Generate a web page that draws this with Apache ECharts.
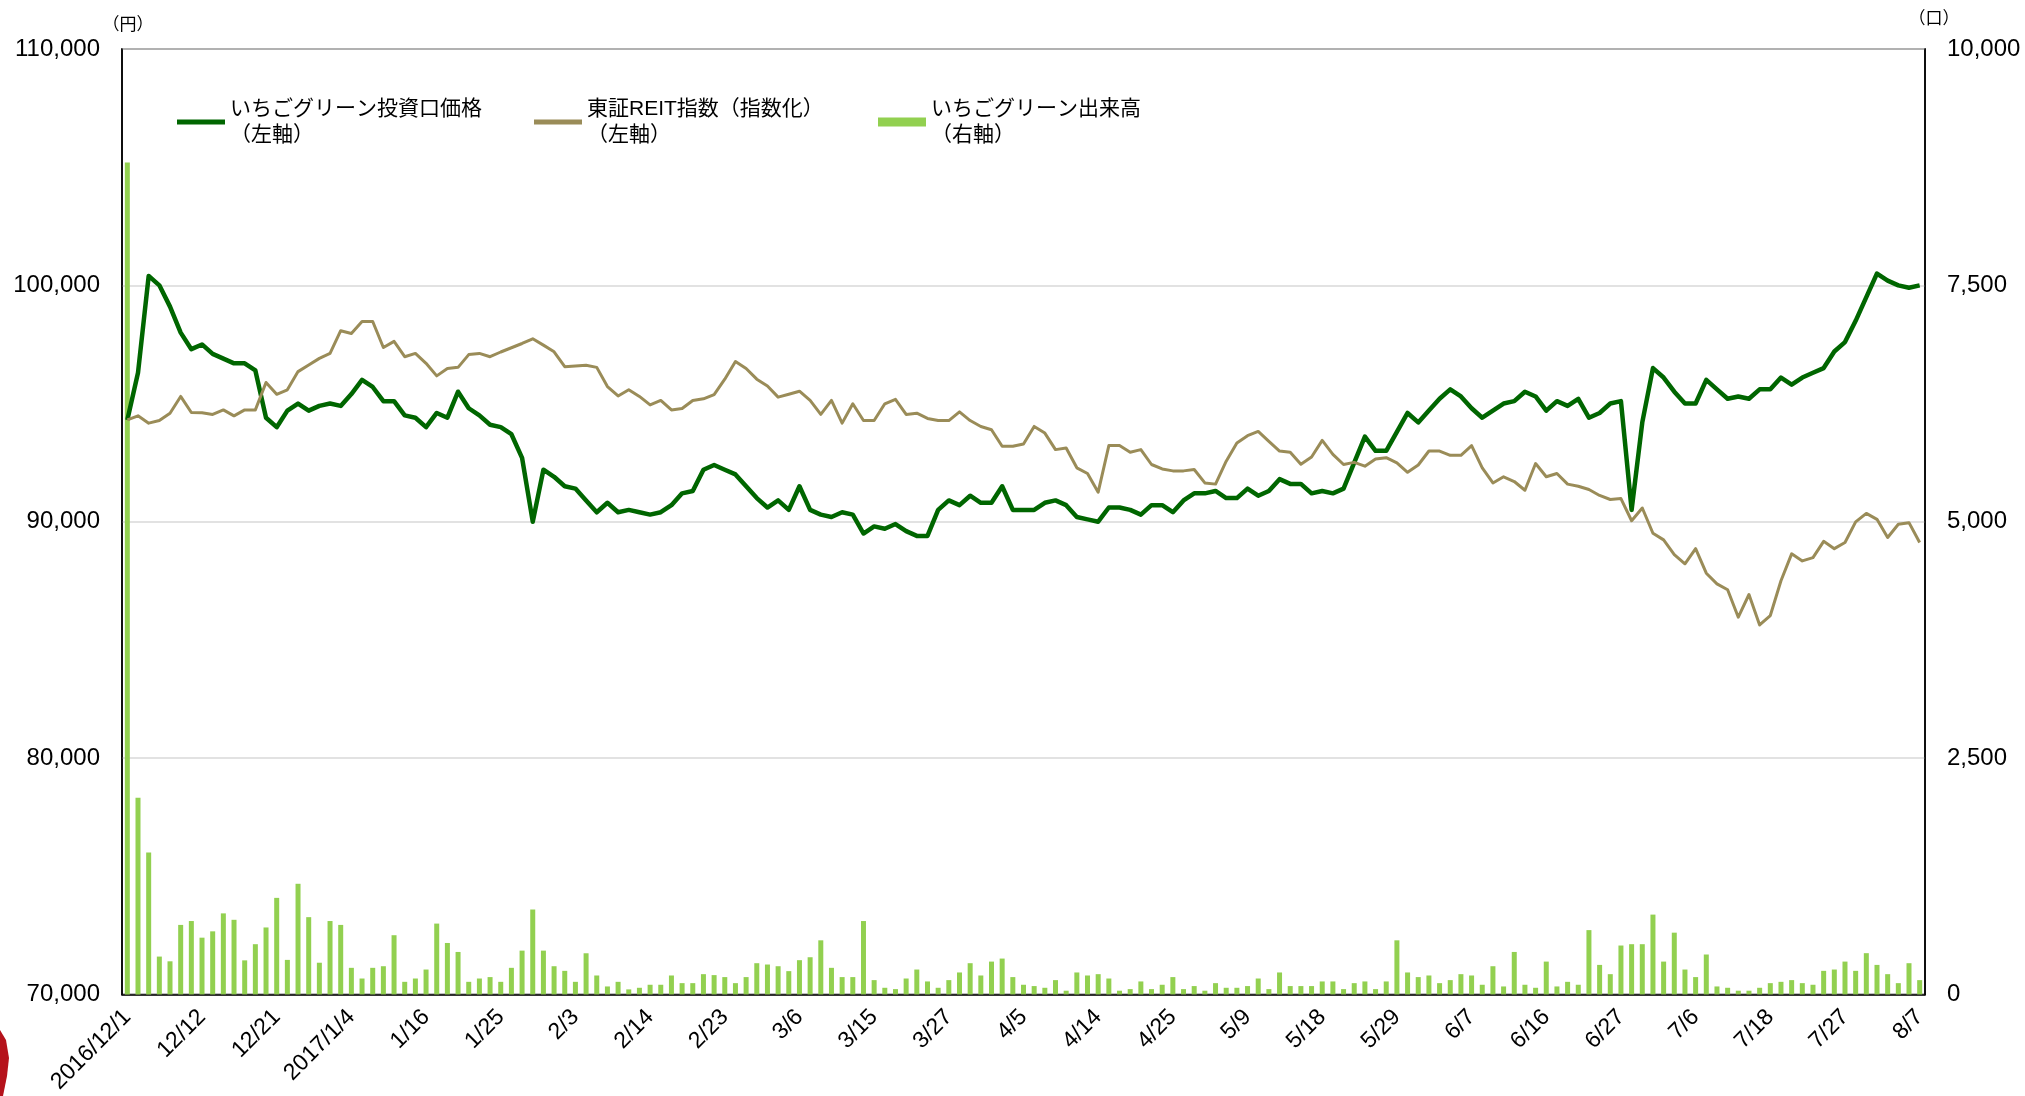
<!DOCTYPE html>
<html>
<head>
<meta charset="utf-8">
<script src="https://cdn.jsdelivr.net/npm/echarts@6/dist/echarts.min.js"></script>
<style>
  html, body { margin: 0; padding: 0; background: #fff; }
  #chart { width: 2025px; height: 1096px; }
</style>
</head>
<body>
<div id="chart"></div>
<script>
// 営業日（東証）2016/12/1 〜 2017/8/7
const dec2016 = [1,2,5,6,7,8,9,12,13,14,15,16,19,20,21,22,26,27,28,29,30];
const jan2017 = [4,5,6,10,11,12,13,16,17,18,19,20,23,24,25,26,27,30,31];
const feb2017 = [1,2,3,6,7,8,9,10,13,14,15,16,17,20,21,22,23,24,27,28];
const mar2017 = [1,2,3,6,7,8,9,10,13,14,15,16,17,21,22,23,24,27,28,29,30,31];
const apr2017 = [3,4,5,6,7,10,11,12,13,14,17,18,19,20,21,24,25,26,27,28];
const may2017 = [1,2,8,9,10,11,12,15,16,17,18,19,22,23,24,25,26,29,30,31];
const jun2017 = [1,2,5,6,7,8,9,12,13,14,15,16,19,20,21,22,23,26,27,28,29,30];
const jul2017 = [3,4,5,6,7,10,11,12,13,14,18,19,20,21,24,25,26,27,28,31];
const aug2017 = [1,2,3,4,7];

// いちごグリーン投資口価格（円）
const price = [
  94300, 96300, 100400, 100000, 99100, 98000, 97300, 97500, 97100, 96900,
  96700, 96700, 96400, 94400, 94000, 94700, 95000, 94700, 94900, 95000,
  94900, 95400, 96000, 95700, 95100, 95100, 94500, 94400, 94000, 94600,
  94400, 95500, 94800, 94500, 94100, 94000, 93700, 92700, 90000, 92200,
  91900, 91500, 91400, 90900, 90400, 90800, 90400, 90500, 90400, 90300,
  90400, 90700, 91200, 91300, 92200, 92400, 92200, 92000, 91500, 91000,
  90600, 90900, 90500, 91500, 90500, 90300, 90200, 90400, 90300, 89500,
  89800, 89700, 89900, 89600, 89400, 89400, 90500, 90900, 90700, 91100,
  90800, 90800, 91500, 90500, 90500, 90500, 90800, 90900, 90700, 90200,
  90100, 90000, 90600, 90600, 90500, 90300, 90700, 90700, 90400, 90900,
  91200, 91200, 91300, 91000, 91000, 91400, 91100, 91300, 91800, 91600,
  91600, 91200, 91300, 91200, 91400, 92500, 93600, 93000, 93000, 93800,
  94600, 94200, 94700, 95200, 95600, 95300, 94800, 94400, 94700, 95000,
  95100, 95500, 95300, 94700, 95100, 94900, 95200, 94400, 94600, 95000,
  95100, 90500, 94200, 96500, 96100, 95500, 95000, 95000, 96000, 95600,
  95200, 95300, 95200, 95600, 95600, 96100, 95800, 96100, 96300, 96500,
  97200, 97600, 98500, 99500, 100500, 100200, 100000, 99900, 100000
];

// 東証REIT指数（指数化）
const reit = [
  94310, 94480, 94170, 94280, 94590, 95300, 94620, 94610, 94540, 94730,
  94480, 94730, 94730, 95890, 95390, 95580, 96350, 96630, 96910, 97120,
  98080, 97960, 98470, 98470, 97370, 97630, 96980, 97120, 96700, 96170,
  96480, 96530, 97070, 97120, 96980, 97180, 97360, 97540, 97740, 97470,
  97190, 96560, 96590, 96620, 96530, 95720, 95320, 95580, 95300, 94940,
  95130, 94730, 94790, 95130, 95200, 95380, 96030, 96780, 96480, 96030,
  95740, 95270, 95390, 95520, 95130, 94540, 95130, 94170, 94990, 94280,
  94280, 94990, 95180, 94540, 94590, 94370, 94280, 94280, 94650, 94280,
  94030, 93890, 93190, 93190, 93290, 94030, 93750, 93050, 93120, 92280,
  92040, 91250, 93220, 93220, 92940, 93050, 92420, 92230, 92150, 92150,
  92210, 91640, 91590, 92560, 93330, 93640, 93820, 93400, 92990, 92940,
  92430, 92740, 93440, 92850, 92420, 92510, 92350, 92650, 92710, 92490,
  92090, 92400, 92990, 92990, 92810, 92810, 93220, 92280, 91640, 91900,
  91700, 91330, 92460, 91900, 92040, 91590, 91500, 91360, 91110, 90940,
  90980, 90040, 90580, 89510, 89230, 88610, 88220, 88860, 87820, 87370,
  87120, 85960, 86920, 85630, 86030, 87500, 88640, 88340, 88480, 89170,
  88860, 89120, 89990, 90350, 90100, 89330, 89890, 89960, 89120
];

// いちごグリーン出来高（口）
const volume = [
  8800, 2080, 1500, 400, 350, 735, 776, 600, 667, 857,
  789, 360, 531, 708, 1021, 365, 1170, 817, 335, 776,
  735, 281, 168, 281, 298, 626, 133, 168, 263, 749,
  544, 449, 133, 168, 183, 133, 281, 463, 898, 463,
  298, 249, 133, 435, 200, 84, 133, 53, 70, 102,
  102, 200, 119, 119, 214, 204, 183, 119, 183, 330,
  316, 298, 246, 362, 393, 572, 281, 183, 183, 776,
  151, 70, 56, 168, 263, 137, 70, 151, 232, 330,
  200, 347, 379, 183, 102, 88, 70, 151, 39, 232,
  200, 214, 168, 39, 56, 137, 56, 102, 183, 56,
  88, 39, 119, 70, 70, 88, 168, 56, 232, 88,
  88, 88, 137, 137, 56, 119, 137, 56, 137, 572,
  232, 183, 200, 119, 151, 214, 200, 102, 298, 84,
  449, 102, 70, 347, 84, 133, 102, 680, 312, 214,
  517, 531, 531, 844, 347, 653, 263, 183, 422, 84,
  70, 39, 39, 70, 119, 133, 151, 119, 102, 249,
  263, 347, 249, 436, 312, 214, 119, 330, 151
];

const seriesNames = ['いちごグリーン投資口価格', '東証REIT指数（指数化）', 'いちごグリーン出来高'];
const axisNotes = ['（左軸）', '（左軸）', '（右軸）'];

// カテゴリ（先頭と年が変わった日だけ年を付ける）
const months = [
  [2016, 12, dec2016], [2017, 1, jan2017], [2017, 2, feb2017], [2017, 3, mar2017],
  [2017, 4, apr2017], [2017, 5, may2017], [2017, 6, jun2017], [2017, 7, jul2017], [2017, 8, aug2017]
];
const categories = [];
let lastYear = null;
months.forEach(([y, m, days]) => {
  days.forEach(d => {
    categories.push(y !== lastYear ? `${y}/${m}/${d}` : `${m}/${d}`);
    lastYear = y;
  });
});

const FONT = 'Arial, "Liberation Sans", "Noto Sans CJK JP", sans-serif';
const GREEN = '#006600';
const TAN = '#9a8c58';
const LIGHT = '#92d050';

const chart = echarts.init(document.getElementById('chart'), null, { renderer: 'canvas' });

const legendBase = {
  top: 91,
  icon: 'rect',
  itemWidth: 48,
  selectedMode: false,
  textStyle: { fontSize: 21, lineHeight: 26, color: '#000', fontFamily: FONT }
};

chart.setOption({
  animation: false,
  backgroundColor: '#fff',
  textStyle: { fontFamily: FONT },
  grid: {
    left: 122, right: 100, top: 49, bottom: 98,
    show: true, borderColor: '#000', borderWidth: 1.5, backgroundColor: 'transparent'
  },
  legend: [
    Object.assign({}, legendBase, {
      left: 172, itemHeight: 5, data: [seriesNames[0]],
      formatter: n => n + '\n' + axisNotes[0]
    }),
    Object.assign({}, legendBase, {
      left: 529, itemHeight: 5, data: [seriesNames[1]],
      formatter: n => n + '\n' + axisNotes[1]
    }),
    Object.assign({}, legendBase, {
      left: 873, itemHeight: 9, data: [seriesNames[2]],
      formatter: n => n + '\n' + axisNotes[2]
    })
  ],
  xAxis: {
    type: 'category',
    data: categories,
    boundaryGap: true,
    axisLine: { lineStyle: { color: '#000', width: 1.5 } },
    axisTick: { show: false },
    axisLabel: {
      interval: 6, rotate: 45, margin: 19,
      fontSize: 23, color: '#000', fontFamily: FONT
    },
    splitLine: { show: false }
  },
  yAxis: [
    {
      type: 'value', min: 70000, max: 110000, interval: 10000,
      name: '（円）', nameLocation: 'end', nameGap: 15,
      nameTextStyle: { fontSize: 17, color: '#000', padding: [0, 0, 0, 12] },
      axisLine: { show: true, lineStyle: { color: '#000', width: 1.5 } },
      axisTick: { show: false },
      axisLabel: {
        margin: 22, fontSize: 24, color: '#000', fontFamily: FONT,
        formatter: v => v.toLocaleString('en-US')
      },
      splitLine: { lineStyle: { color: '#d9d9d9', width: 1.5 } }
    },
    {
      type: 'value', min: 0, max: 10000, interval: 2500,
      name: '（口）', nameLocation: 'end', nameGap: 21,
      nameTextStyle: { fontSize: 17, color: '#000', padding: [0, 0, 0, 18] },
      axisLine: { show: true, lineStyle: { color: '#000', width: 1.5 } },
      axisTick: { show: false },
      axisLabel: {
        margin: 22, fontSize: 24, color: '#000', fontFamily: FONT,
        formatter: v => v.toLocaleString('en-US')
      },
      splitLine: { show: false }
    }
  ],
  series: [
    {
      name: seriesNames[2], type: 'bar', yAxisIndex: 1,
      data: volume, barWidth: 5,
      itemStyle: { color: LIGHT }
    },
    {
      name: seriesNames[0], type: 'line', yAxisIndex: 0,
      data: price, symbol: 'none',
      itemStyle: { color: GREEN },
      lineStyle: { color: GREEN, width: 4.5, join: 'round' },
      z: 3
    },
    {
      name: seriesNames[1], type: 'line', yAxisIndex: 0,
      data: reit, symbol: 'none',
      itemStyle: { color: TAN },
      lineStyle: { color: TAN, width: 3, join: 'round' },
      z: 4
    }
  ],
  graphic: [
    {
      type: 'polygon',
      shape: { points: [[0, 1030], [6, 1040], [9, 1058], [7, 1076], [3, 1096], [0, 1096]] },
      style: { fill: '#b5121b' }
    }
  ]
});
</script>
</body>
</html>
